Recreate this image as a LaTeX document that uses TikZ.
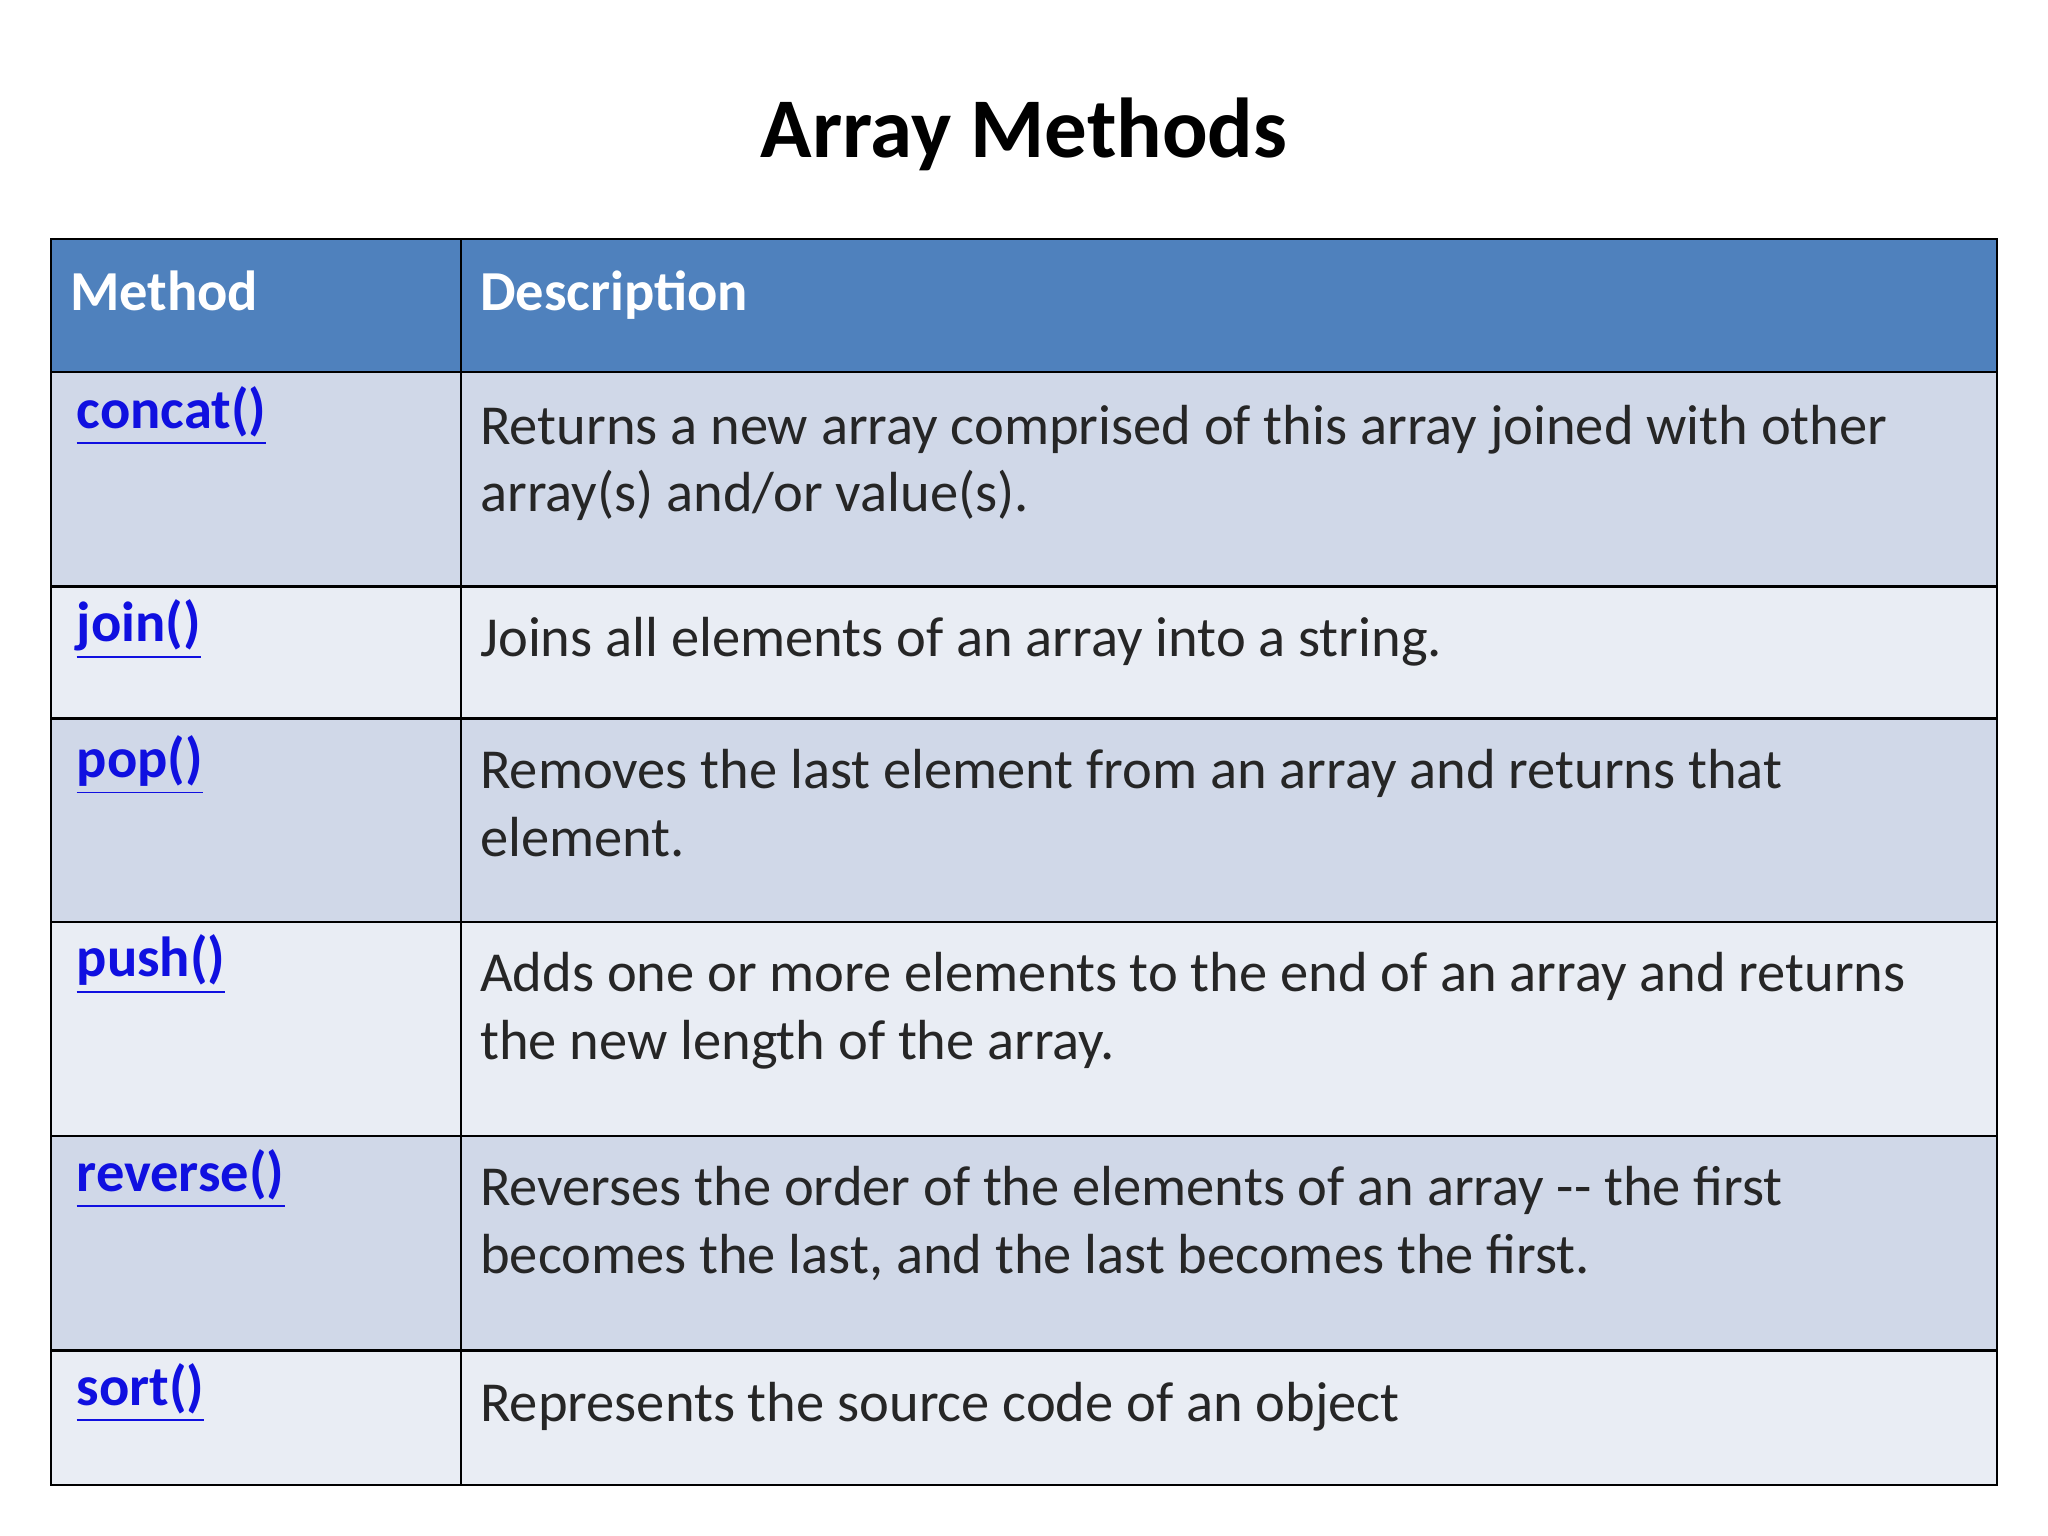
\documentclass[tikz,border=0pt]{standalone}
\usepackage{fontspec}
\setmainfont{Carlito}
\definecolor{hdr}{HTML}{4F81BD}
\definecolor{rowA}{HTML}{D0D8E8}
\definecolor{rowB}{HTML}{E9EDF4}
\definecolor{lnk}{HTML}{1010E0}
\begin{document}
\begin{tikzpicture}[x=0.01cm,y=-0.01cm,
  meth/.style={anchor=base west,inner sep=0,font=\fontsize{12.3}{14}\selectfont\bfseries,text=lnk},
  desc/.style={anchor=base west,inner sep=0,font=\fontsize{12.3}{14}\selectfont,text=black!85},
  head/.style={anchor=base west,inner sep=0,font=\fontsize{12.3}{14}\selectfont\bfseries,text=white}]
\useasboundingbox (0,0) rectangle (1568,1176);
\fill[white] (0,0) rectangle (1568,1176);
\node[inner sep=0,font=\fontsize{18.5}{20}\selectfont\bfseries] (title) at (784,103) {Array Methods};
\fill[hdr] (39,183) rectangle (1529,285);
\fill[rowA] (39,285) rectangle (1529,449);
\fill[rowB] (39,449) rectangle (1529,550);
\fill[rowA] (39,550) rectangle (1529,706);
\fill[rowB] (39,706) rectangle (1529,870);
\fill[rowA] (39,870) rectangle (1529,1034);
\fill[rowB] (39,1034) rectangle (1529,1137);
\draw[line width=0.5pt] (39,183) rectangle (1529,1137);
\foreach \y in {285,449,550,706,870,1034} \draw[line width=0.5pt] (39,\y) -- (1529,\y);
\draw[line width=0.5pt] (353,183) -- (353,1137);
\node[head] (h1) at (53,238) {Method};
\node[head] (h2) at (367,238) {Description};
\node[meth] (m1) at (58,328) {\underline{concat()}};
\node[meth] (m2) at (58,491) {\underline{join()}};
\node[meth] (m3) at (58,595) {\underline{pop()}};
\node[meth] (m4) at (58,748) {\underline{push()}};
\node[meth] (m5) at (58,912) {\underline{reverse()}};
\node[meth] (m6) at (58,1076) {\underline{sort()}};
\node[desc] (d1a) at (367,340) {Returns a new array comprised of this array joined with other};
\node[desc] (d1b) at (367,392) {array(s) and/or value(s).};
\node[desc] (d2) at (367,503) {Joins all elements of an array into a string.};
\node[desc] (d3a) at (367,604) {Removes the last element from an array and returns that};
\node[desc] (d3b) at (367,656) {element.};
\node[desc] (d4a) at (367,759) {Adds one or more elements to the end of an array and returns};
\node[desc] (d4b) at (367,811) {the new length of the array.};
\node[desc] (d5a) at (367,923) {Reverses the order of the elements of an array -{}- the first};
\node[desc] (d5b) at (367,975) {becomes the last, and the last becomes the first.};
\node[desc] (d6) at (367,1088) {Represents the source code of an object};
\end{tikzpicture}
\end{document}
